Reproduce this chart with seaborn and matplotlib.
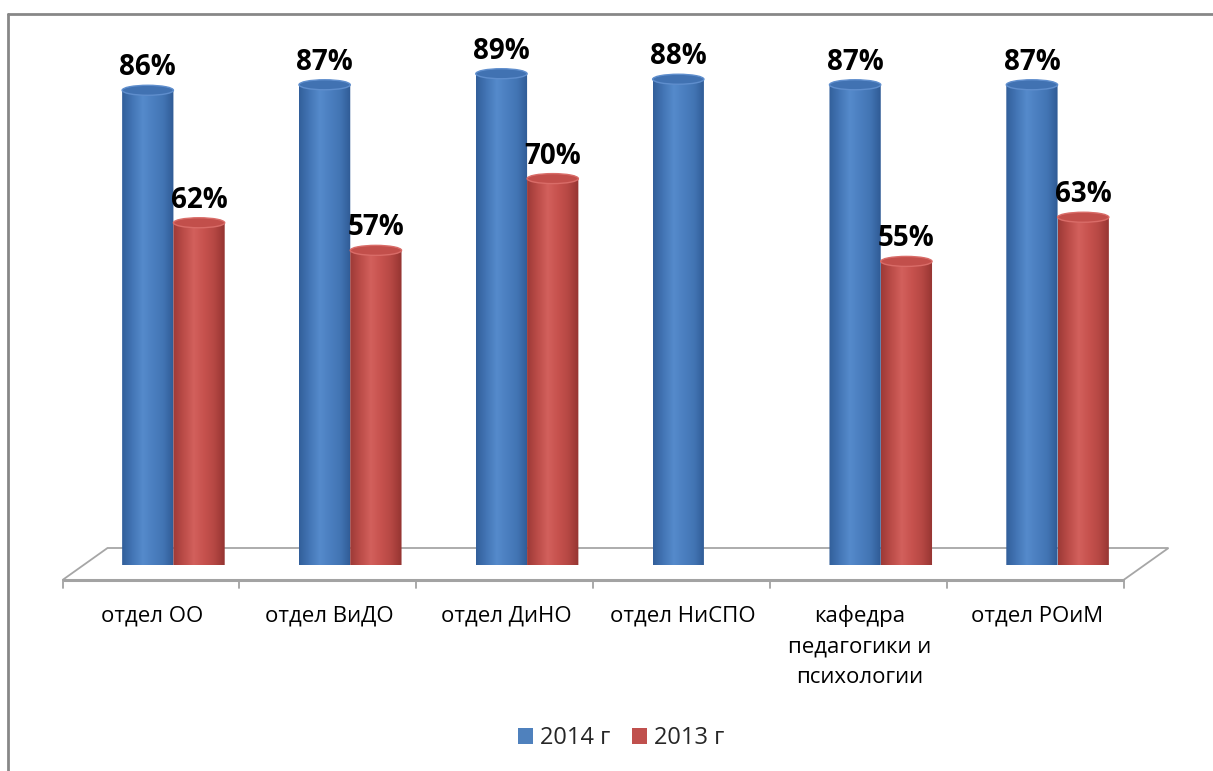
import numpy as np
import pandas as pd
import matplotlib
matplotlib.use("Agg")
import matplotlib.pyplot as plt
import seaborn as sns
from matplotlib.patches import Ellipse, Polygon, Patch
from matplotlib.lines import Line2D
from matplotlib.colors import LinearSegmentedColormap
import matplotlib.transforms as mtransforms

# ---------------- data ----------------
categories = ["отдел ОО", "отдел ВиДО", "отдел ДиНО", "отдел НиСПО",
              "кафедра\nпедагогики и\nпсихологии", "отдел РОиМ"]
series_names = ["2014 г", "2013 г"]
values_2014 = [86, 87, 89, 88, 87, 87]
values_2013 = [62, 57, 70, np.nan, 55, 63]

df = pd.DataFrame({
    "Отдел": categories * 2,
    "Год": [series_names[0]] * len(categories) + [series_names[1]] * len(categories),
    "Доля": np.array(values_2014 + values_2013, dtype=float) / 100.0,
})

BLUE = "#4f81bd"
RED = "#c0504d"
grad_stops = {
    BLUE: ["#325f9a", "#4375b5", "#558acb", "#4b7fc0", "#4274b3", "#2f5a94"],
    RED: ["#9d3a37", "#bb4c48", "#d2605c", "#c7524e", "#b54743", "#943431"],
}
top_colors = {BLUE: ("#4172b2", "#5f8ecd"), RED: ("#c24f4b", "#d96c68")}

sns.set_theme(style="white")
plt.rcParams["font.family"] = ["Open Sans", "DejaVu Sans"]

W, H = 1213, 771
fig = plt.figure(figsize=(W / 100, H / 100), dpi=100)
fig.patch.set_facecolor("white")

# plot area in pixels (top-based): x 85..1146, y 13..565
ax = fig.add_axes([85 / W, 1 - 565 / H, (1146 - 85) / W, (565 - 13) / H])
sns.barplot(data=df, x="Отдел", y="Доля", hue="Год", hue_order=series_names,
            palette=[BLUE, RED], width=0.58, saturation=1, ax=ax, legend=False,
            errorbar=None)
bars = list(ax.patches)

n = len(categories)
ax.set_xlim(-0.5, n - 0.5)
ax.set_ylim(0, 1)
for s in ax.spines.values():
    s.set_visible(False)
ax.set_yticks([])
ax.set_xlabel("")
ax.set_ylabel("")
ax.patch.set_alpha(0)

px_x = (1146 - 85) / n     # pixels per category
px_y = (565 - 13)          # pixels per unit of y
dxu = 22.5 / px_x
yf = -15 / px_y
yb = 17 / px_y
ell_h = 10 / px_y

# floor
floor = Polygon([(-0.5 - dxu, yf), (n - 0.5 - dxu, yf), (n - 0.5 + dxu, yb), (-0.5 + dxu, yb)],
                closed=True, facecolor="white", edgecolor="#a6a6a6", lw=1.3,
                zorder=0.5, clip_on=False)
ax.add_patch(floor)
ax.plot([-0.5 - dxu, n - 0.5 - dxu], [yf, yf], color="#a3a3a3", lw=2.2,
        zorder=0.6, clip_on=False, solid_capstyle="butt")
for k in range(n + 1):
    ax.plot([-0.5 - dxu + k, -0.5 - dxu + k], [yf, yf - 8 / px_y], color="#a3a3a3",
            lw=1.3, zorder=0.6, clip_on=False)

# cylinders
theta = np.linspace(np.pi, 2 * np.pi, 40)
for p in bars:
    h = p.get_height()
    if not np.isfinite(h) or h <= 0:
        p.set_visible(False)
        continue
    x, w = p.get_x(), p.get_width()
    base = matplotlib.colors.to_hex(p.get_facecolor())
    key = BLUE if base.lower() == BLUE else RED
    cmap = LinearSegmentedColormap.from_list("c", grad_stops[key])
    cx = x + w / 2
    verts = [(cx + (w / 2) * np.cos(t), (ell_h / 2) * np.sin(t)) for t in theta]
    verts += [(x + w, h), (x, h)]
    clip = Polygon(verts, closed=True, transform=ax.transData)
    grad = np.linspace(0, 1, 256).reshape(1, -1)
    im = ax.imshow(grad, extent=[x, x + w, -ell_h, h], aspect="auto", cmap=cmap,
                   interpolation="bilinear", zorder=2, clip_on=True)
    im.set_clip_path(clip)
    p.set_visible(False)
    fc, ec = top_colors[key]
    ax.add_patch(Ellipse((cx, h), w, ell_h, facecolor=fc, edgecolor=ec, lw=1.0, zorder=3))
    ax.annotate(f"{round(h * 100)}%", xy=(cx, h), xytext=(0, 15), textcoords="offset pixels",
                ha="center", va="baseline", fontsize=20, fontweight="bold", color="black",
                zorder=5)

ax.set_xlim(-0.5, n - 0.5)
ax.set_ylim(0, 1)

# category labels, shifted to the front edge of the floor
ax.set_xticks(range(n))
ax.set_xticklabels(categories, fontsize=16, linespacing=1.6, color="#000000")
ax.tick_params(axis="x", length=0, pad=29)
shift = mtransforms.ScaledTranslation(-21 / 100, 0, fig.dpi_scale_trans)
for lab in ax.get_xticklabels():
    lab.set_transform(lab.get_transform() + shift)
    lab.set_verticalalignment("top")

# chart frame (top & left visible)
fig.add_artist(Line2D([8 / W, 8 / W], [0, 1 - 13.5 / H], transform=fig.transFigure,
                      color="#878787", lw=2))
fig.add_artist(Line2D([8 / W, 1], [1 - 13.5 / H, 1 - 13.5 / H], transform=fig.transFigure,
                      color="#878787", lw=2))

# legend
handles = [Patch(facecolor=BLUE, edgecolor="none"), Patch(facecolor=RED, edgecolor="none")]
fig.legend(handles, series_names, loc="center", bbox_to_anchor=(621 / W, 1 - 738 / H),
           ncol=2, frameon=False, fontsize=17, handlelength=0.65, handleheight=0.65,
           handletextpad=0.3, columnspacing=0.9)

fig.savefig("out.png", dpi=100)
